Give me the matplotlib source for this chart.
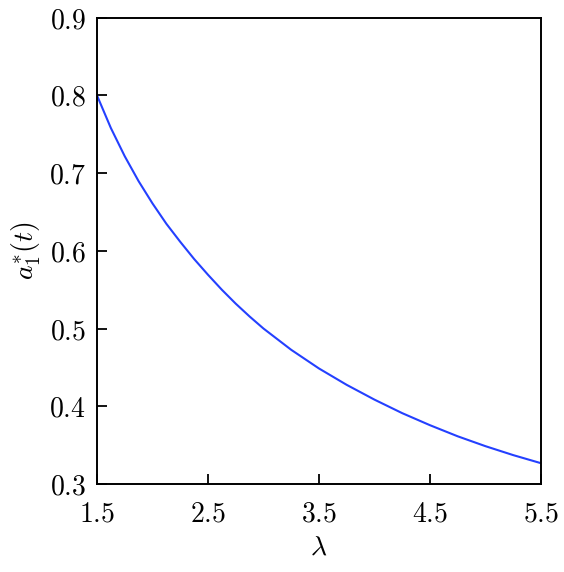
import matplotlib
matplotlib.use("Agg")
import matplotlib.pyplot as plt

plt.rcParams["mathtext.fontset"] = "cm"
plt.rcParams["font.family"] = "serif"
plt.rcParams["font.serif"] = ["DejaVu Serif"]

# Данные кривой
lam = [1.5, 1.625, 1.75, 1.875, 2.0, 2.125, 2.25, 2.375, 2.5, 2.625,
       2.75, 2.875, 3.0, 3.25, 3.5, 3.75, 4.0, 4.25, 4.5, 4.75, 5.0,
       5.25, 5.5]
a1 = [0.800, 0.758, 0.7217, 0.6896, 0.661, 0.6348, 0.6116, 0.5895,
      0.5692, 0.5499, 0.5320, 0.5155, 0.500, 0.4726, 0.4486, 0.4275,
      0.4085, 0.3911, 0.3756, 0.3613, 0.3486, 0.3371, 0.3267]

xticks = [1.5, 2.5, 3.5, 4.5, 5.5]
yticks = [0.3, 0.4, 0.5, 0.6, 0.7, 0.8, 0.9]

fig = plt.figure(figsize=(5.64, 5.72), dpi=100)
ax = fig.add_axes([0.172, 0.154, 0.787, 0.815])

ax.plot(lam, a1, color="#2440ff", linewidth=1.5)

ax.set_xlim(1.5, 5.5)
ax.set_ylim(0.3, 0.9)
ax.set_xticks(xticks)
ax.set_yticks(yticks)
ax.set_xticklabels([f"${v}$" for v in xticks], fontsize=20)
ax.set_yticklabels([f"${v}$" for v in yticks], fontsize=20)
ax.tick_params(axis="x", pad=12)
ax.tick_params(axis="y", pad=8)
ax.tick_params(direction="in", length=7.5, width=1.3, top=False, right=False)
for s in ax.spines.values():
    s.set_linewidth(1.4)

ax.set_xlabel(r"$\lambda$", fontsize=20, labelpad=4)
ax.set_ylabel(r"$a_1^{*}(t)$", fontsize=20, labelpad=4)

plt.savefig("out.png", dpi=100)
